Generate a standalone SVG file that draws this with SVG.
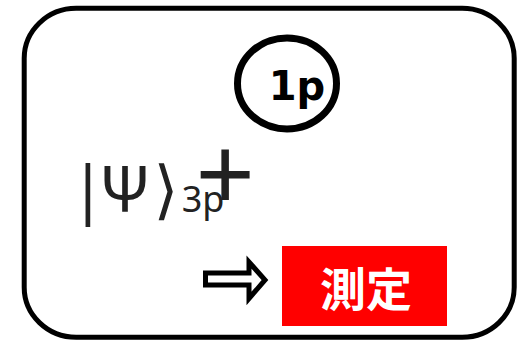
<svg xmlns="http://www.w3.org/2000/svg" width="526" height="341" viewBox="0 0 526 341">
<style>
.frame{fill:#fff;stroke:#000;stroke-width:5}
.ring{fill:none;stroke:#000;stroke-width:7}
.lbl{font-family:"DejaVu Sans","Liberation Sans",sans-serif;font-weight:bold;fill:#000}
.ket{font-family:"Noto Sans","DejaVu Sans",sans-serif;fill:#222}
.meas{font-family:"Noto Sans CJK JP","Noto Sans CJK SC",sans-serif;font-weight:bold;fill:#fff}
.arrow{fill:#fff;stroke:#000;stroke-width:5;stroke-linejoin:miter}
</style>
<rect class="frame" x="24.2" y="8.3" width="490" height="329" rx="52" ry="50"/>
<g id="node-1p">
<ellipse class="ring" cx="287" cy="83.4" rx="49.5" ry="45.5"/>
<text class="lbl" x="297" y="100" font-size="40" text-anchor="middle">1p</text>
</g>
<g id="node-state">
<text class="ket" y="212" font-size="64" text-anchor="middle"><tspan x="88">|</tspan><tspan x="125">Ψ</tspan><tspan x="166">⟩</tspan><tspan x="203" font-size="36">3p</tspan><tspan x="225.3" font-size="104">+</tspan></text>
</g>
<g id="connectors">
<polygon class="arrow" points="205.5,273 249,273 249,262 265,280 249,298.5 249,285 205.5,285"/>
</g>
<g id="node-measure">
<rect x="282" y="246" width="165" height="80" fill="#ff0000"/>
<text class="meas" x="366" y="306" font-size="46" text-anchor="middle">測定</text>
</g>
</svg>
